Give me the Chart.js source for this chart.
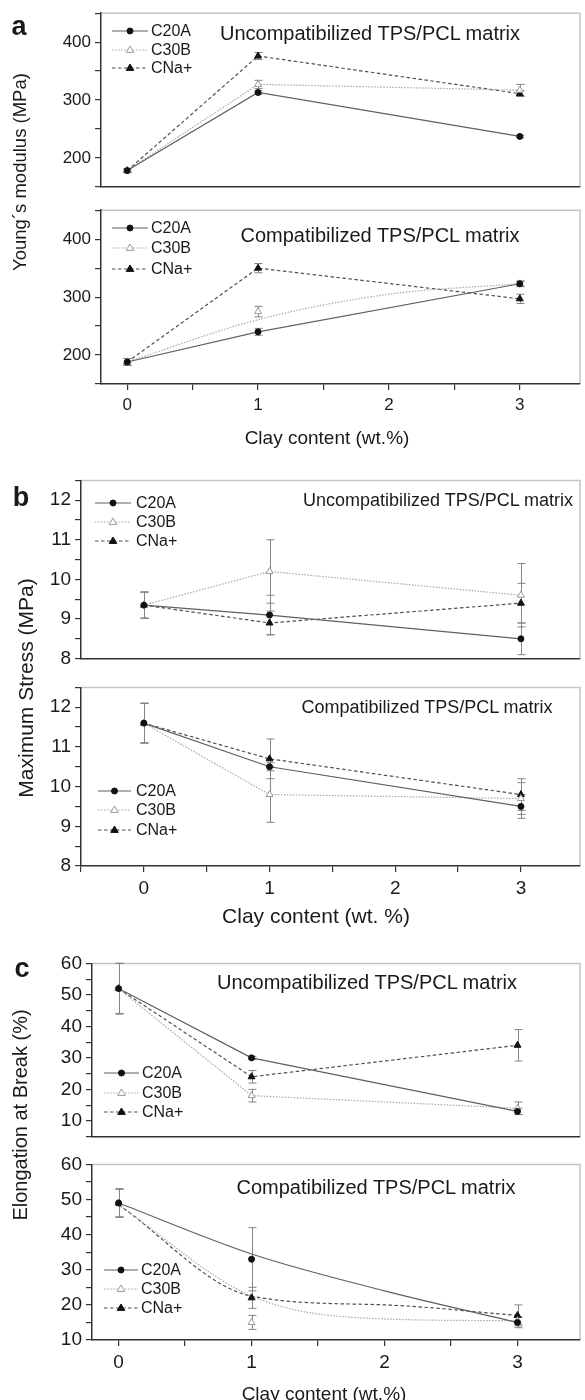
<!DOCTYPE html>
<html lang="en">
<head>
<meta charset="UTF-8">
<title>Clay content vs tensile properties of TPS/PCL</title>
<style>
  body { margin: 0; background: #fff; }
  #page { position: relative; width: 585px; height: 1400px; overflow: hidden;
          font-family: "Liberation Sans", Arial, sans-serif; color: #1a1a1a; }
  #page canvas { position: absolute; left: 0; }
  .t { position: absolute; white-space: nowrap; line-height: 1; transform: translate(-50%, -50%); }
  .v { transform: translate(-50%, -50%) rotate(-90deg); }
  .letter { font-weight: bold; }
</style>
<script src="https://cdn.jsdelivr.net/npm/chart.js"></script>
</head>
<body>
<div id="page"></div>
<script>
  // ---- data (order of series: C20A, C30B, CNa+) ----
  const clay = [0, 1, 3];
  const fitClay = [0, 1, 2, 3];
  const names = ['C20A', 'C30B', 'CNa+'];
  const xTicks = [0, 1, 2, 3];

  // Young's modulus (MPa)
  const ymUncomp = [[178, 313, 237], [178, 327, 317], [178, 376, 311]];
  const ymUncompErr = [[3, 3, 2], [3, 7, 10], [3, 6, 5]];
  const ymComp = [[188, 240, 323], [188, 275, 323], [188, 350, 297]];
  const ymCompErr = [[6, 6, 4], [6, 9, 5], [6, 8, 8]];
  const ymCompC30BFit = [188, 261, 305, 323];
  const ymTicks = [200, 300, 400];

  // Maximum stress (MPa)
  const msUncomp = [[9.35, 9.1, 8.5], [9.35, 10.2, 9.6], [9.35, 8.9, 9.4]];
  const msUncompErr = [[0.33, 0.5, 0.4], [0.33, 0.8, 0.8], [0.33, 0.3, 0.5]];
  const msComp = [[11.6, 10.5, 9.5], [11.6, 9.8, 9.7], [11.6, 10.7, 9.8]];
  const msCompErr = [[0.5, 0.1, 0.3], [0.5, 0.7, 0.4], [0.5, 0.5, 0.4]];
  const msTicks = [8, 9, 10, 11, 12];

  // Elongation at break (%)
  const ebUncomp = [[52, 30, 13], [52, 18, 14], [52, 24, 34]];
  const ebUncompErr = [[8, 0.5, 1], [8, 2, 2], [8, 2, 5]];
  const ebComp = [[49, 33, 15], [49, 15, 15.5], [49, 22, 17]];
  const ebCompErr = [[4, 9, 1.5], [4, 2, 1], [4, 3, 3]];
  const ebCompFit = [[49, 34.5, 24, 15], [48.5, 22.5, 16, 15.5], [48.5, 22.5, 20, 17]];
  const ebTicks = [10, 20, 30, 40, 50, 60];

  // ---- styles ----
  const FONT = '"Liberation Sans", Arial, sans-serif';
  const INK = '#1a1a1a';
  const styles = [
    { line: '#606060', dash: [], pt: 'circle', r: 3, fill: '#111', stroke: '#111' },
    { line: '#a8a8a8', dash: [1.5, 1.5], pt: 'triangle', r: 4, fill: '#fff', stroke: '#999' },
    { line: '#505050', dash: [3.5, 2.5], pt: 'triangle', r: 4, fill: '#111', stroke: '#111' }
  ];

  const page = document.getElementById('page');

  function marker(ctx, s, x, y) {
    ctx.beginPath();
    if (s.pt === 'circle') {
      ctx.arc(x, y, s.r, 0, Math.PI * 2);
    } else {
      ctx.moveTo(x, y - s.r);
      ctx.lineTo(x + s.r * 0.95, y + s.r * 0.6);
      ctx.lineTo(x - s.r * 0.95, y + s.r * 0.6);
      ctx.closePath();
    }
    ctx.fillStyle = s.fill;
    ctx.strokeStyle = s.stroke;
    ctx.lineWidth = 1;
    ctx.fill();
    ctx.stroke();
  }

  // light top/right frame
  const frame = {
    id: 'frame',
    beforeDraw(chart) {
      const { ctx, chartArea: a } = chart;
      ctx.save();
      ctx.strokeStyle = '#c4c4c4';
      ctx.lineWidth = 1.5;
      ctx.beginPath();
      ctx.moveTo(a.left, a.top);
      ctx.lineTo(a.right, a.top);
      ctx.lineTo(a.right, a.bottom);
      ctx.stroke();
      ctx.restore();
    }
  };

  // vertical error bars with caps
  const errorBars = {
    id: 'errorBars',
    beforeDatasetsDraw(chart) {
      const { ctx, scales: { x, y } } = chart;
      ctx.save();
      ctx.strokeStyle = '#858585';
      ctx.lineWidth = 1;
      chart.data.datasets.forEach(ds => {
        if (!ds.errs) return;
        ds.data.forEach((p, k) => {
          const e = ds.errs[k];
          if (!e) return;
          const px = Math.round(x.getPixelForValue(p.x)) + 0.5;
          const t = y.getPixelForValue(p.y + e);
          const b = y.getPixelForValue(p.y - e);
          ctx.beginPath();
          ctx.moveTo(px, t); ctx.lineTo(px, b);
          ctx.moveTo(px - 4, t); ctx.lineTo(px + 4, t);
          ctx.moveTo(px - 4, b); ctx.lineTo(px + 4, b);
          ctx.stroke();
        });
      });
      ctx.restore();
    }
  };

  // legend drawn inside the plot area
  const insideLegend = {
    id: 'insideLegend',
    afterDatasetsDraw(chart, args, o) {
      if (!o || !o.rows) return;
      const ctx = chart.ctx;
      ctx.save();
      o.rows.forEach((yy, i) => {
        const s = styles[i];
        ctx.strokeStyle = s.line;
        ctx.lineWidth = 1.2;
        ctx.setLineDash(s.dash);
        ctx.beginPath();
        ctx.moveTo(o.x1, yy); ctx.lineTo(o.x2, yy);
        ctx.stroke();
        ctx.setLineDash([]);
        marker(ctx, s, (o.x1 + o.x2) / 2, yy);
        ctx.fillStyle = INK;
        ctx.font = o.size + 'px ' + FONT;
        ctx.textBaseline = 'middle';
        ctx.fillText(names[i], o.tx, yy + 1);
      });
      ctx.restore();
    }
  };

  function buildSets(vals, errs, fits) {
    const out = [];
    vals.forEach((v, i) => {
      const s = styles[i];
      const fit = fits ? fits[i] : null;
      const lx = fit ? fitClay : clay;
      const ly = fit || v;
      out.push({
        label: names[i] + ' line',
        data: lx.map((x, k) => ({ x, y: ly[k] })),
        borderColor: s.line, borderWidth: 1.2, borderDash: s.dash,
        pointRadius: 0, fill: false, tension: fit ? 0.4 : 0,
        cubicInterpolationMode: fit ? 'monotone' : 'default',
        order: 2
      });
      out.push({
        label: names[i],
        data: clay.map((x, k) => ({ x, y: v[k] })),
        showLine: false,
        pointStyle: s.pt, pointRadius: s.r,
        pointBackgroundColor: s.fill, pointBorderColor: s.stroke, pointBorderWidth: 1,
        errs: errs[i],
        order: 1
      });
    });
    return out;
  }

  function panel(c) {
    const PT = 14;
    const XH = c.showX ? 44 : 2;
    const PB = c.showX ? 0 : 12;
    const top = c.T - PT;
    const cv = document.createElement('canvas');
    cv.width = 585;
    cv.height = PT + (c.B - c.T) + XH + PB;
    cv.style.top = top + 'px';
    page.appendChild(cv);

    const tickFont = { family: FONT, size: c.tick };
    new Chart(cv, {
      type: 'line',
      data: { datasets: buildSets(c.vals, c.errs, c.fits) },
      options: {
        responsive: false,
        animation: false,
        events: [],
        layout: { padding: { top: PT, right: 585 - c.R, left: 0, bottom: PB } },
        plugins: {
          legend: { display: false },
          tooltip: { enabled: false },
          insideLegend: {
            x1: c.leg.x1, x2: c.leg.x2, tx: c.leg.tx, size: 16,
            rows: c.leg.rows.map(r => r - top)
          }
        },
        scales: {
          x: {
            type: 'linear', min: c.xMin, max: c.xMax,
            afterFit: s => { s.height = XH; },
            border: { color: '#333', width: 1.5 },
            grid: { drawOnChartArea: false, drawTicks: c.showX, tickLength: 6, color: '#333', lineWidth: 1.2 },
            ticks: {
              display: c.showX, stepSize: 0.5, includeBounds: false,
              autoSkip: false, maxRotation: 0, padding: 5,
              color: INK, font: tickFont,
              callback: v => xTicks.includes(v) ? v : ''
            }
          },
          y: {
            min: c.yMin, max: c.yMax,
            afterFit: s => { s.width = c.L; },
            border: { color: '#333', width: 1.5 },
            grid: { drawOnChartArea: false, tickLength: 6, color: '#333', lineWidth: 1.2 },
            ticks: {
              stepSize: c.yStep, includeBounds: false, autoSkip: false, padding: 4,
              color: INK, font: tickFont,
              callback: v => c.yTicks.includes(v) ? v : ''
            }
          }
        }
      },
      plugins: [frame, errorBars, insideLegend]
    });
  }

  // panel a
  panel({ L: 101, T: 13, R: 583, B: 187, xMin: -0.2, xMax: 3.46, yMin: 150, yMax: 450, yStep: 50,
          yTicks: ymTicks, vals: ymUncomp, errs: ymUncompErr, showX: false, tick: 17,
          leg: { x1: 112, x2: 148, tx: 151, rows: [31, 50, 68] } });
  panel({ L: 101, T: 210, R: 583, B: 384, xMin: -0.2, xMax: 3.46, yMin: 150, yMax: 450, yStep: 50,
          yTicks: ymTicks, vals: ymComp, errs: ymCompErr, fits: [null, ymCompC30BFit, null],
          showX: true, tick: 17,
          leg: { x1: 112, x2: 148, tx: 151, rows: [228, 248, 269] } });

  // panel b
  panel({ L: 81, T: 479, R: 584, B: 660, xMin: -0.5, xMax: 3.47, yMin: 8, yMax: 12.5, yStep: 0.5,
          yTicks: msTicks, vals: msUncomp, errs: msUncompErr, showX: false, tick: 19,
          leg: { x1: 95, x2: 131, tx: 136, rows: [503, 522, 541] } });
  panel({ L: 81, T: 686, R: 584, B: 866, xMin: -0.5, xMax: 3.47, yMin: 8, yMax: 12.5, yStep: 0.5,
          yTicks: msTicks, vals: msComp, errs: msCompErr, showX: true, tick: 19,
          leg: { x1: 98, x2: 131, tx: 136, rows: [791, 810, 830] } });

  // panel c
  panel({ L: 92, T: 962, R: 584, B: 1138, xMin: -0.2, xMax: 3.47, yMin: 5, yMax: 60, yStep: 5,
          yTicks: ebTicks, vals: ebUncomp, errs: ebUncompErr, showX: false, tick: 19,
          leg: { x1: 104, x2: 139, tx: 142, rows: [1073, 1093, 1112] } });
  panel({ L: 92, T: 1163, R: 584, B: 1340, xMin: -0.2, xMax: 3.47, yMin: 10, yMax: 60, yStep: 5,
          yTicks: ebTicks, vals: ebComp, errs: ebCompErr, fits: ebCompFit, showX: true, tick: 19,
          leg: { x1: 104, x2: 138, tx: 141, rows: [1270, 1289, 1308] } });

  // ---- text placed on the page ----
  const texts = [
    ['a', 19, 26, 27, 'letter'],
    ['b', 21, 497, 27, 'letter'],
    ['c', 22, 968, 27, 'letter'],
    ['Uncompatibilized TPS/PCL matrix', 370, 33, 20],
    ['Compatibilized TPS/PCL matrix', 380, 235, 20],
    ['Uncompatibilized TPS/PCL matrix', 438, 500, 18],
    ['Compatibilized TPS/PCL matrix', 427, 707, 18],
    ['Uncompatibilized TPS/PCL matrix', 367, 982, 20],
    ['Compatibilized TPS/PCL matrix', 376, 1187, 20],
    ['Young\u00B4s modulus (MPa)', 20, 172, 18.5, 'v'],
    ['Maximum Stress (MPa)', 25, 688, 21, 'v'],
    ['Elongation at Break (%)', 20, 1115, 20, 'v'],
    ['Clay content (wt.%)', 327, 437, 19],
    ['Clay content (wt. %)', 316, 915, 21],
    ['Clay content (wt.%)', 324, 1393, 19]
  ];
  texts.forEach(([s, x, y, size, cls]) => {
    const d = document.createElement('div');
    d.className = 't' + (cls ? ' ' + cls : '');
    d.textContent = s;
    d.style.left = x + 'px';
    d.style.top = y + 'px';
    d.style.fontSize = size + 'px';
    page.appendChild(d);
  });
</script>
</body>
</html>
